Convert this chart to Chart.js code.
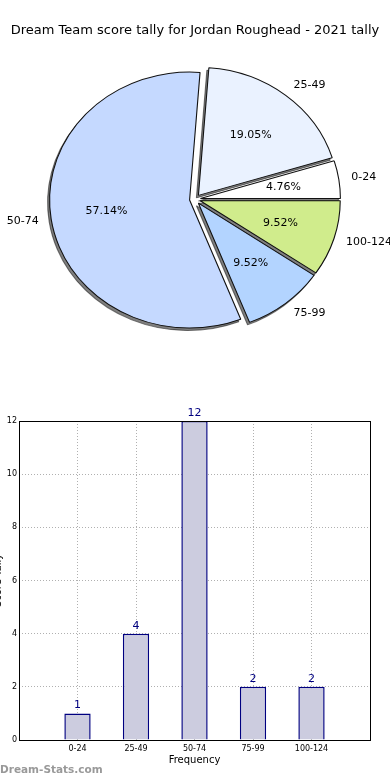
<!DOCTYPE html>
<html>
<head>
<meta charset="utf-8">
<script src="https://cdn.jsdelivr.net/npm/chart.js@4.4.0/dist/chart.umd.min.js"></script>
<style>
    body { margin: 0; background: #fff; width: 390px; height: 780px; position: relative; overflow: hidden; }
    #pieWrap { position: absolute; left: 0; top: 0; width: 390px; height: 350px; }
    #barWrap { position: absolute; left: 0; top: 400px; width: 390px; height: 380px; }
</style>
</head>
<body>
<div id="pieWrap"><canvas id="pieChart"></canvas></div>
<div id="barWrap"><canvas id="barChart"></canvas></div>
<script>
const chartTitle = 'Dream Team score tally for Jordan Roughead - 2021 tally';
const categories = ['0-24', '25-49', '50-74', '75-99', '100-124'];
const tally = [1, 4, 12, 2, 2];
const pieColours = ['#ffffff', '#eaf2ff', '#c5d9ff', '#b3d4ff', '#d0ec8c'];
const yTicks = [0, 2, 4, 6, 8, 10, 12];

const fontFamily = '"DejaVu Sans", sans-serif';
const total = tally.reduce((a, b) => a + b, 0);

// chart.js goes clockwise, the original pie went anticlockwise from 3 o'clock
const pieLabels = categories.slice().reverse();
const pieValues = tally.slice().reverse();
const pieFill = pieColours.slice().reverse();

const squash = 140 / 128; // the pie is a bit wider than tall
const explode = 5;

// draw one slice squashed + pulled out; shadowOnly puts the slice off canvas so only its shadow lands
function drawSlice(arc, ctx, area, shadowOnly) {
    const mid = (arc.startAngle + arc.endAngle) / 2;
    ctx.save();
    if (shadowOnly) {
        ctx.shadowColor = 'rgba(0,0,0,0.5)';
        ctx.shadowOffsetX = 2000 - 2;
        ctx.shadowOffsetY = 2.5;
        ctx.shadowBlur = 0;
        ctx.translate(-2000, 0);
    }
    ctx.translate(arc.x, arc.y);
    ctx.scale(squash, 1);
    ctx.translate(-arc.x, -arc.y);
    ctx.translate(Math.cos(mid) * explode, Math.sin(mid) * explode);
    arc.plainDraw.call(arc, ctx, area);
    ctx.restore();
}

const pieLook = {
    id: 'pieLook',
    afterUpdate: function(chart) {
        chart.getDatasetMeta(0).data.forEach(function(arc) {
            if (arc.plainDraw) return;
            arc.plainDraw = arc.draw;
            arc.draw = function(ctx, area) {
                drawSlice(this, ctx, area, false);
            };
        });
    },
    beforeDatasetsDraw: function(chart) {
        // all shadows first, under every slice
        chart.getDatasetMeta(0).data.forEach(function(arc) {
            drawSlice(arc, chart.ctx, chart.chartArea, true);
        });
    },
    afterDatasetsDraw: function(chart) {
        const ctx = chart.ctx;
        ctx.save();
        ctx.font = '11px ' + fontFamily;
        ctx.fillStyle = '#000';
        ctx.textBaseline = 'middle';
        chart.getDatasetMeta(0).data.forEach(function(arc, i) {
            const mid = (arc.startAngle + arc.endAngle) / 2;
            const c = Math.cos(mid), s = Math.sin(mid);
            const r = arc.outerRadius;
            const px = k => arc.x + squash * (explode + k * r) * c;
            const py = k => arc.y + (explode + k * r) * s;
            ctx.textAlign = c > 0 ? 'left' : 'right';
            ctx.fillText(pieLabels[i], px(1.09), py(1.1));
            ctx.textAlign = 'center';
            ctx.fillText((pieValues[i] / total * 100).toFixed(2) + '%', px(0.6), py(0.6));
        });
        ctx.restore();
    }
};

new Chart(document.getElementById('pieChart'), {
    type: 'pie',
    data: {
        labels: pieLabels,
        datasets: [{
            data: pieValues,
            backgroundColor: pieFill,
            borderColor: '#111',
            borderWidth: 1
        }]
    },
    options: {
        responsive: true,
        maintainAspectRatio: false,
        animation: false,
        devicePixelRatio: 1,
        rotation: 90,
        radius: 128,
        plugins: {
            legend: { display: false },
            tooltip: { enabled: false },
            title: {
                display: true,
                text: chartTitle,
                color: '#000',
                font: { size: 13, family: fontFamily, weight: 'normal' },
                padding: { top: 23, bottom: 10 }
            }
        }
    },
    plugins: [pieLook]
});

// bar chart: blank slot at each end like the original axis
const barLabels = [''].concat(categories, ['']);
const barValues = [null].concat(tally, [null]);

const barLook = {
    id: 'barLook',
    afterDatasetsDraw: function(chart) {
        const ctx = chart.ctx;
        ctx.save();
        ctx.font = '11px ' + fontFamily;
        ctx.fillStyle = '#000080';
        ctx.textAlign = 'center';
        ctx.textBaseline = 'middle';
        chart.getDatasetMeta(0).data.forEach(function(bar, i) {
            if (barValues[i] === null) return;
            ctx.fillText(String(barValues[i]), bar.x, bar.y - 8);
        });
        ctx.restore();
    },
    afterDraw: function(chart) {
        const ctx = chart.ctx;
        const a = chart.chartArea;
        ctx.save();
        ctx.strokeStyle = '#000';
        ctx.lineWidth = 1;
        ctx.strokeRect(a.left + 0.5, a.top + 0.5, a.right - a.left, a.bottom - a.top);

        // y title, mostly off the left edge as in the original
        ctx.translate(-2, (a.top + a.bottom) / 2);
        ctx.rotate(-Math.PI / 2);
        ctx.font = '10px ' + fontFamily;
        ctx.fillStyle = '#000';
        ctx.textAlign = 'center';
        ctx.textBaseline = 'middle';
        ctx.fillText('Score Tally', 0, 0);
        ctx.restore();

        ctx.save();
        ctx.font = 'bold 10.5px ' + fontFamily;
        ctx.fillStyle = '#999';
        ctx.textBaseline = 'middle';
        ctx.fillText('Dream-Stats.com', 0, 370);
        ctx.restore();
    }
};

new Chart(document.getElementById('barChart'), {
    type: 'bar',
    data: {
        labels: barLabels,
        datasets: [{
            data: barValues,
            backgroundColor: '#ccccdf',
            borderColor: '#000080',
            borderWidth: 1.5,
            barPercentage: 0.45,
            categoryPercentage: 1
        }]
    },
    options: {
        responsive: true,
        maintainAspectRatio: false,
        animation: false,
        devicePixelRatio: 1,
        layout: { padding: { top: 21, right: 20, left: 0, bottom: 0 } },
        plugins: {
            legend: { display: false },
            tooltip: { enabled: false }
        },
        scales: {
            x: {
                offset: false,
                grid: { color: '#b0b0b0', drawTicks: false, offset: false },
                border: { display: false, dash: [1, 2] },
                ticks: {
                    color: '#000',
                    font: { size: 8, family: fontFamily },
                    padding: 4,
                    maxRotation: 0,
                    autoSkip: false
                },
                title: {
                    display: true,
                    text: 'Frequency',
                    color: '#000',
                    font: { size: 10, family: fontFamily },
                    padding: { top: 0, bottom: 14 }
                },
                afterFit: function(scale) { scale.height = 40; }
            },
            y: {
                min: 0,
                max: 12,
                grid: { color: '#b0b0b0', drawTicks: false },
                border: { display: false, dash: [1, 2] },
                ticks: {
                    color: '#000',
                    font: { size: 8, family: fontFamily },
                    padding: 2
                },
                afterBuildTicks: function(scale) {
                    scale.ticks = yTicks.map(v => ({ value: v }));
                },
                afterFit: function(scale) { scale.width = 19; }
            }
        }
    },
    plugins: [barLook]
});
</script>
</body>
</html>
